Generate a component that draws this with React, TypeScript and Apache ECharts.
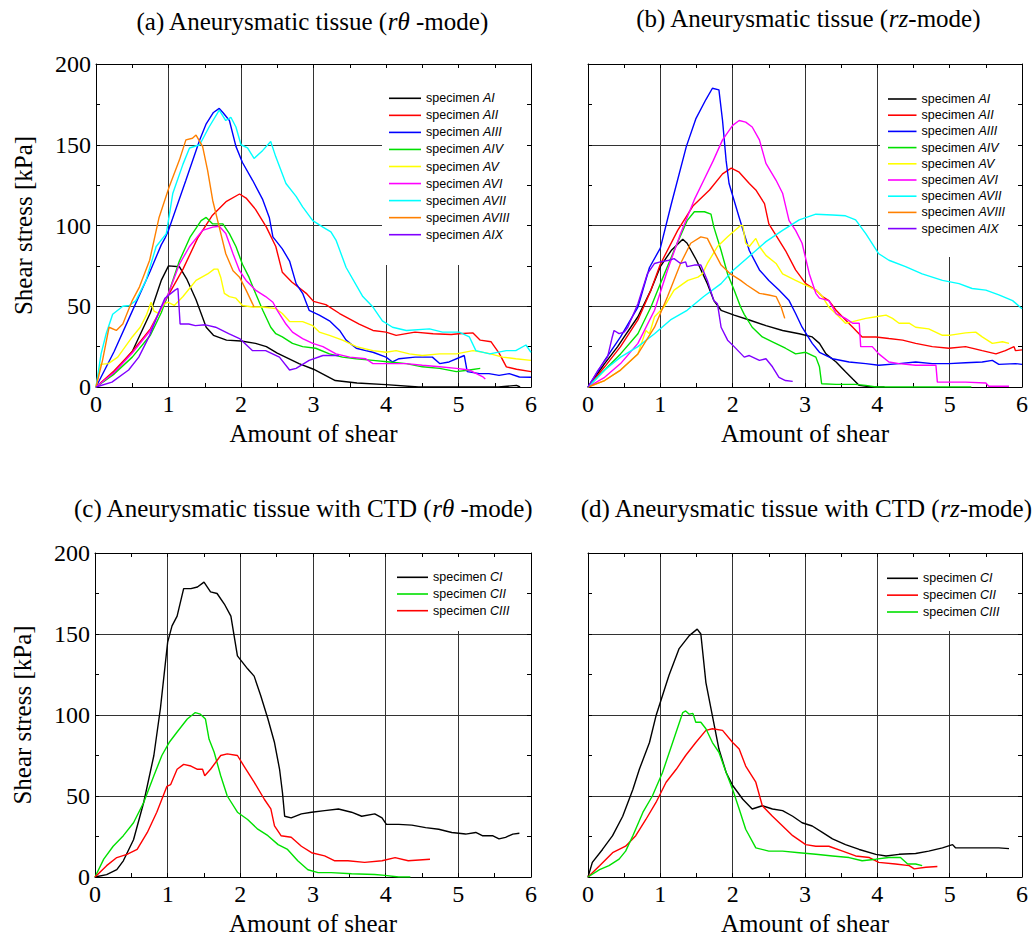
import React, { useEffect, useRef } from 'react';
import * as echarts from 'echarts';

const SERIF = 'Liberation Serif';
const SANS = 'Liberation Sans';

// ---------- axis ticks ----------
const xMin = 0, xMax = 6, xStep = 1;
const yMin = 0, yMax = 200, yStep = 50;

// ---------- titles ----------
const titles = [
  '(a) Aneurysmatic tissue ({i|r}{i|θ} -mode)',
  '(b) Aneurysmatic tissue ({i|rz}-mode)',
  '(c) Aneurysmatic tissue with CTD ({i|r}{i|θ} -mode)',
  '(d) Aneurysmatic tissue with CTD ({i|rz}-mode)',
];
const xName = 'Amount of shear';
const yName = 'Shear stress [kPa]';

// ---------- (a) r-theta mode ----------
const aAI = [[0,0],[0.25,9],[0.5,22],[0.75,46],[0.9,66],[1.0,75],[1.15,74.5],[1.25,67],[1.38,54],[1.52,37],[1.62,32],[1.8,29],[2.0,28.5],[2.2,27],[2.35,25],[2.5,21],[2.8,14.5],[3.0,11],[3.3,4],[3.6,2.5],[4.0,1.5],[4.45,0],[5.55,0],[5.8,1],[5.85,0]];
const aAII = [[0,0],[0.25,10],[0.5,22],[0.75,36],[1.0,57],[1.2,73],[1.4,92],[1.6,106],[1.8,115],[1.98,119.5],[2.07,117],[2.2,110],[2.35,99],[2.48,87],[2.57,71],[2.7,65],[2.9,58],[3.0,53],[3.17,51],[3.36,45.5],[3.63,39],[3.82,35],[4.0,34],[4.14,32],[4.4,34],[4.65,33],[4.9,32.5],[5.0,33],[5.2,33.5],[5.3,29],[5.45,28],[5.56,21],[5.66,12.5],[5.8,11],[6.0,9.5]];
const aAIII = [[0,0],[0.25,22],[0.5,47],[0.75,72],[0.9,88],[0.95,92],[1.0,97],[1.24,128],[1.43,153],[1.52,163],[1.62,170],[1.7,172.5],[1.75,170],[1.84,165],[1.93,149],[2.02,139],[2.16,128],[2.3,116],[2.39,105],[2.44,93],[2.57,85.5],[2.67,78],[2.76,64],[2.85,58],[2.94,47.5],[3.08,44.5],[3.22,41],[3.36,35],[3.45,29],[3.59,24],[3.72,22.5],[3.82,21.5],[4.0,18.5],[4.09,15.5],[4.18,17.5],[4.4,18.5],[4.64,18.5],[4.74,14.5],[4.87,15.5],[5.08,19.5],[5.12,9.5],[5.29,8.3],[5.42,8.3],[5.56,7.2],[5.7,8.3],[5.84,6.2],[6.0,6]];
const aAIV = [[0,0],[0.25,8],[0.5,18.5],[0.75,32],[0.9,46],[1.0,58],[1.15,78],[1.3,93],[1.45,103],[1.52,105],[1.61,101],[1.75,101],[1.84,95],[1.93,87],[2.02,76],[2.11,68],[2.2,58],[2.3,47.5],[2.41,37],[2.48,33],[2.57,31],[2.71,27],[2.85,25],[3.03,24],[3.22,20.5],[3.4,18.5],[3.59,17.5],[3.82,16.5],[4.05,15.5],[4.28,14.5],[4.5,12.5],[4.74,11.5],[4.97,9.5],[5.15,10.5],[5.3,11.5]];
const aAV = [[0,0],[0.06,14],[0.17,14.5],[0.3,18.5],[0.5,31],[0.61,37],[0.7,45],[0.76,52.5],[0.8,47],[0.87,45.5],[0.93,51],[0.99,52.5],[1.08,50.5],[1.2,56],[1.38,66],[1.54,70],[1.63,73],[1.68,73],[1.72,68],[1.77,58],[1.84,56],[1.93,55],[2.02,50.5],[2.16,49.5],[2.3,49.5],[2.48,48.5],[2.57,45.5],[2.67,40.5],[2.85,40.5],[2.99,38],[3.08,34],[3.22,32],[3.4,29],[3.59,25],[3.82,22.5],[4.0,21.5],[4.14,22.5],[4.32,20.5],[4.5,19.5],[4.74,20.5],[4.97,20.5],[5.2,22.5],[5.4,21],[5.61,18.5],[5.79,17.5],[6.0,16.5]];
const aAVI = [[0,0],[0.25,9],[0.5,21],[0.75,35],[1.0,58],[1.15,76],[1.29,87],[1.47,97],[1.61,99],[1.7,99.5],[1.79,95],[1.89,82.5],[1.98,72],[2.07,66],[2.2,60],[2.34,56],[2.44,52.5],[2.5,47.5],[2.62,39],[2.71,34],[2.85,30],[2.99,27],[3.13,25],[3.31,20.5],[3.5,18.5],[3.72,17.5],[3.82,14.5],[4.05,14.5],[4.28,14.5],[4.5,13.5],[4.74,12.5],[4.97,11.5],[5.15,10.5],[5.33,6.5],[5.37,5]];
const aAVII = [[0,0],[0.07,20.5],[0.14,33],[0.23,45],[0.37,50],[0.46,50.5],[0.55,53.5],[0.69,66],[0.83,87],[0.97,95],[1.06,120],[1.2,138],[1.29,148],[1.43,150],[1.56,161],[1.7,171.5],[1.79,165],[1.86,167],[1.93,161],[2.0,150],[2.09,148],[2.18,141.5],[2.3,146.5],[2.41,152],[2.48,142.5],[2.62,126],[2.76,118],[2.85,111.5],[2.99,103],[3.13,99],[3.24,96],[3.31,91],[3.45,74],[3.68,56],[3.82,49.5],[3.95,41],[4.09,37],[4.28,35],[4.6,36],[4.78,34],[5.01,34],[5.15,31],[5.24,22.5],[5.43,20.5],[5.66,22.5],[5.79,22.5],[5.93,26],[6.0,21.5]];
const aAVIII = [[0,0],[0.09,16.5],[0.18,37],[0.28,35],[0.37,39],[0.5,53.5],[0.6,62],[0.74,78.5],[0.87,105],[1.01,124],[1.15,140.5],[1.24,153],[1.33,154],[1.38,156],[1.47,149],[1.54,134],[1.61,115.5],[1.7,99],[1.79,82.5],[1.89,72],[1.98,68],[2.07,60],[2.16,51.5],[2.18,49.5]];
const aAIX = [[0,0],[0.22,3],[0.45,10.5],[0.59,18.5],[0.73,31],[0.86,45.5],[0.95,55],[1.09,60],[1.13,61],[1.16,39],[1.28,39],[1.37,38],[1.51,38.5],[1.65,37],[1.83,33],[1.98,30],[2.16,22.5],[2.34,22.5],[2.53,18.5],[2.67,10.5],[2.76,11.5],[2.94,16.5],[3.13,19.5],[3.35,19.5]];

// ---------- (b) rz mode ----------
const bAI = [[0,0],[0.23,14.5],[0.41,25],[0.5,31],[0.69,43.5],[0.87,60],[1.0,74.5],[1.15,84.5],[1.31,91.5],[1.37,89],[1.5,78.5],[1.65,64],[1.74,53.5],[1.84,47.5],[2.02,44.5],[2.23,41.5],[2.46,38],[2.69,35],[2.92,33],[3.1,31],[3.2,27],[3.29,20.5],[3.43,15.5],[3.56,9.5],[3.66,5],[3.75,1],[3.93,0],[4.1,0]];
const bAII = [[0,0],[0.23,12.5],[0.45,25],[0.69,41.5],[0.87,60],[1.0,76],[1.24,97],[1.45,112],[1.68,122],[1.86,132],[1.98,135.5],[2.09,133],[2.23,126],[2.32,122],[2.44,113.5],[2.5,101],[2.64,91],[2.73,84.5],[2.87,72.5],[3.01,64],[3.15,60],[3.24,56],[3.33,53.5],[3.43,47.5],[3.56,41.5],[3.66,37],[3.79,31],[3.98,31],[4.16,30],[4.35,29],[4.53,27],[4.76,25],[4.99,24],[5.22,25],[5.45,22.5],[5.64,20.5],[5.77,22.5],[5.89,25],[5.91,22.5],[6.0,23]];
const bAIII = [[0,0],[0.23,16.5],[0.45,31],[0.69,49.5],[0.85,74],[1.0,86],[1.15,113],[1.36,149],[1.49,166],[1.63,178],[1.72,185],[1.81,184],[1.86,165],[1.91,140],[1.95,126],[2.02,115.5],[2.09,105],[2.23,84.5],[2.37,72.5],[2.5,66],[2.64,60],[2.78,53.5],[2.87,45.5],[2.96,37],[3.1,27],[3.2,21.5],[3.38,17.5],[3.61,15.5],[3.84,14.5],[4.02,13.5],[4.3,14.5],[4.53,15.5],[4.76,14.5],[4.99,14.5],[5.22,15],[5.45,15.5],[5.59,16.5],[5.68,14],[5.91,14.5],[6.0,14]];
const bAIV = [[0,0],[0.23,10.5],[0.45,20.5],[0.69,33],[0.87,49.5],[1.0,64],[1.19,84.5],[1.37,103],[1.47,108.5],[1.61,108.5],[1.7,107],[1.74,99],[1.84,84.5],[1.93,70],[2.02,60],[2.11,49.5],[2.16,45],[2.27,37],[2.41,31],[2.55,28],[2.73,24],[2.87,20.5],[3.01,21.5],[3.15,18.5],[3.2,12.5],[3.23,2],[3.43,1.6],[3.7,1.6],[3.84,1],[3.98,0],[5.3,0]];
const bAV = [[0,0],[0.23,4],[0.45,10.5],[0.69,20.5],[0.8,35],[0.85,33],[0.92,43.5],[1.05,49.5],[1.19,60],[1.38,66],[1.52,68],[1.58,70],[1.65,76.5],[1.79,87],[1.93,93],[2.11,100],[2.14,100],[2.18,89],[2.23,87],[2.32,92],[2.37,87],[2.46,81.5],[2.6,76.5],[2.69,70],[2.87,66],[3.06,62],[3.15,60],[3.24,56],[3.33,49.5],[3.47,43.5],[3.56,39.5],[3.66,40.5],[3.84,42.5],[3.98,43.5],[4.12,44.5],[4.21,42.5],[4.3,39.5],[4.44,39.5],[4.53,37],[4.71,36],[4.9,32],[4.99,32],[5.22,33.5],[5.36,34],[5.45,31],[5.59,27],[5.73,28],[5.82,27]];
const bAVI = [[0,0],[0.23,6],[0.45,14.5],[0.69,27],[0.92,47.5],[1.1,72.5],[1.28,95],[1.47,116],[1.6,128],[1.73,140],[1.86,153],[2.0,162],[2.09,165],[2.18,164],[2.27,161],[2.37,153],[2.46,138.5],[2.6,128],[2.69,120],[2.78,103],[2.87,97],[2.96,89],[3.06,70],[3.15,58],[3.2,55],[3.33,53.5],[3.43,45.5],[3.56,42.5],[3.66,39.5],[3.75,39.5],[3.77,25],[3.93,25],[4.02,20.5],[4.16,15.5],[4.3,14.5],[4.53,13.5],[4.81,13.5],[4.83,3],[4.99,3],[5.22,3],[5.5,2.5],[5.54,0.5],[5.82,0.5]];
const bAVII = [[0,0],[0.23,10.5],[0.45,18.5],[0.69,25],[0.92,33],[1.14,41.5],[1.37,47.5],[1.6,56],[1.84,64],[2.0,72],[2.23,81],[2.46,90],[2.69,97],[2.92,103.5],[3.15,107],[3.38,106.5],[3.56,106],[3.7,103.5],[3.84,95],[4.02,82.5],[4.16,78.5],[4.39,74.5],[4.62,70],[4.9,66],[5.13,64],[5.31,61],[5.5,60],[5.68,57],[5.87,53.5],[6.0,48.5]];
const bAVIII = [[0,0],[0.23,4],[0.45,10.5],[0.69,20.5],[0.92,37],[1.1,56],[1.28,76.5],[1.42,89],[1.56,93],[1.65,92],[1.74,84],[1.84,75.5],[1.97,70],[2.11,66],[2.2,63],[2.37,58],[2.5,57],[2.6,56],[2.67,49.5],[2.72,42.5]];
const bAIX = [[0,0],[0.14,10.5],[0.27,18.5],[0.33,30],[0.36,35],[0.43,33],[0.5,34],[0.55,37],[0.69,51.5],[0.82,70],[0.92,76.5],[1.0,77.5],[1.12,78.5],[1.19,79.5],[1.28,76.5],[1.35,77.5],[1.37,74.5],[1.47,75.5],[1.56,75.5],[1.65,66],[1.74,53.5],[1.79,51.5],[1.84,37],[1.93,29],[2.02,25],[2.16,18.5],[2.23,19.5],[2.37,16.5],[2.46,17.5],[2.55,12.5],[2.64,6],[2.73,4],[2.83,3.5]];

// ---------- (c) with CTD, r-theta mode ----------
const cCI = [[0,0],[0.16,1.5],[0.3,4.5],[0.39,10],[0.53,23],[0.67,46],[0.81,75],[0.9,104],[1.0,145],[1.06,155],[1.13,161],[1.22,178],[1.32,178],[1.41,179],[1.5,182],[1.59,176],[1.68,175],[1.78,168.5],[1.87,161],[1.96,136.5],[2.1,128.5],[2.19,124],[2.28,112],[2.38,97.5],[2.47,83],[2.54,66.5],[2.58,52],[2.61,37.5],[2.7,36.5],[2.84,39],[2.98,40],[3.16,41],[3.35,42],[3.53,40],[3.67,37.5],[3.85,39],[3.95,36.5],[4.01,32.5],[4.18,32.5],[4.36,32],[4.55,30.5],[4.73,29.5],[4.91,27.5],[5.1,26.5],[5.24,27.5],[5.33,25.5],[5.47,25.5],[5.56,23.5],[5.65,24.5],[5.75,26.5],[5.84,27]];
const cCII = [[0,0],[0.12,11],[0.25,19],[0.39,25.5],[0.53,33.5],[0.67,46],[0.81,62.5],[0.92,75],[1.02,83],[1.13,89.5],[1.27,97.5],[1.38,101.5],[1.45,100.5],[1.52,97.5],[1.57,85],[1.64,77],[1.73,62.5],[1.82,50],[1.96,40],[2.1,35.5],[2.24,29.5],[2.38,25.5],[2.52,20],[2.65,17],[2.79,10],[2.93,4.5],[3.07,2.7],[3.25,2.7],[3.53,2],[3.85,1.5],[3.99,1],[4.18,0],[4.34,0]];
const cCIII = [[0,0],[0.16,7],[0.3,12],[0.44,14],[0.58,17],[0.72,27.5],[0.85,40],[0.99,56],[1.04,57],[1.13,66.5],[1.22,69.5],[1.32,68.5],[1.41,66.5],[1.48,66.5],[1.51,62.5],[1.59,66.5],[1.73,75],[1.82,76],[1.96,75],[2.05,68.5],[2.19,58.5],[2.33,48],[2.42,42],[2.47,31.5],[2.56,25.5],[2.7,24.5],[2.84,19],[2.98,15],[3.16,13],[3.3,10],[3.48,10],[3.71,9],[3.95,10],[4.13,12],[4.31,10],[4.61,11]];

// ---------- (d) with CTD, rz mode ----------
const dCI = [[0,0],[0.06,9],[0.2,17],[0.34,25.5],[0.48,37.5],[0.62,54],[0.71,66.5],[0.85,83],[0.94,99.5],[1.03,112],[1.12,124.5],[1.26,141],[1.4,149],[1.51,153],[1.56,150],[1.63,120],[1.72,99.5],[1.81,79],[1.91,64.5],[2.0,56.5],[2.14,48],[2.27,42],[2.41,44],[2.55,42],[2.69,41],[2.83,37.5],[2.96,33.5],[3.1,31.5],[3.24,27.5],[3.38,23.5],[3.56,20],[3.75,17],[3.98,14],[4.12,13],[4.3,14],[4.53,14.5],[4.71,16],[4.9,18],[5.04,20],[5.08,18],[5.27,18],[5.45,18],[5.68,18],[5.82,17.5]];
const dCII = [[0,0],[0.16,7],[0.34,15],[0.52,19],[0.66,25.5],[0.8,35.5],[0.94,46],[1.08,58.5],[1.22,66.5],[1.35,75],[1.49,83],[1.63,90.5],[1.72,91.5],[1.86,90.5],[2.0,83],[2.09,79],[2.18,68.5],[2.32,58.5],[2.41,44],[2.55,37.5],[2.69,31.5],[2.83,25.5],[3.01,20],[3.15,19],[3.33,19],[3.52,16],[3.7,13],[3.89,12],[4.02,9],[4.25,8],[4.44,7],[4.51,5],[4.67,6],[4.83,6.5]];
const dCIII = [[0,0],[0.16,4.5],[0.29,7],[0.43,11],[0.52,16],[0.62,25.5],[0.76,40],[0.89,50],[1.03,64.5],[1.17,83],[1.31,101.5],[1.35,102.5],[1.4,100.5],[1.45,101],[1.49,95.5],[1.56,95.5],[1.63,91.5],[1.72,83],[1.81,77],[1.91,64.5],[2.0,54],[2.09,42],[2.18,29.5],[2.32,18],[2.5,16],[2.69,16],[2.92,15],[3.15,14],[3.38,13],[3.61,12],[3.79,10],[3.98,11],[4.16,12],[4.32,12],[4.42,8],[4.53,8],[4.62,7]];

// ---------- specimen labels ----------
const specA = ['AI', 'AII', 'AIII', 'AIV', 'AV', 'AVI', 'AVII', 'AVIII', 'AIX'];
const specC = ['CI', 'CII', 'CIII'];

const BLACK = '#000000', RED = '#ff0000', BLUE = '#0000ff', GREEN = '#00e000',
  YELLOW = '#ffff00', MAGENTA = '#ff00ff', CYAN = '#00ffff', ORANGE = '#ff8000', PURPLE = '#8000ff';
const colorsA = [BLACK, RED, BLUE, GREEN, YELLOW, MAGENTA, CYAN, ORANGE, PURPLE];

const panels = [
  {
    key: 'a', labels: specA, data: [aAI, aAII, aAIII, aAIV, aAV, aAVI, aAVII, aAVIII, aAIX], colors: colorsA,
    grid: { left: 96, top: 64, width: 435, height: 323 }, showY: true,
    legend: { left: 389, top: 91.3, itemWidth: 32, itemGap: 3.05 },
    bg: { x: 382, y: 65, width: 148, height: 200 },
    title: { x: 312, y: 21 },
  },
  {
    key: 'b', labels: specA, data: [bAI, bAII, bAIII, bAIV, bAV, bAVI, bAVII, bAVIII, bAIX], colors: colorsA,
    grid: { left: 588, top: 64, width: 434, height: 323 }, showY: false,
    legend: { left: 888, top: 92, itemWidth: 28.5, itemGap: 2.2 },
    bg: { x: 880, y: 65, width: 141, height: 192 },
    title: { x: 808, y: 18 },
  },
  {
    key: 'c', labels: specC, data: [cCI, cCII, cCIII], colors: [BLACK, GREEN, RED],
    grid: { left: 95, top: 553, width: 436, height: 324 }, showY: true,
    legend: { left: 397, top: 570.3, itemWidth: 31, itemGap: 2.7 },
    bg: { x: 390, y: 554, width: 140, height: 77 },
    title: { x: 303, y: 508 },
  },
  {
    key: 'd', labels: specC, data: [dCI, dCII, dCIII], colors: [BLACK, RED, GREEN],
    grid: { left: 588, top: 553, width: 434, height: 324 }, showY: false,
    legend: { left: 887, top: 571.3, itemWidth: 31, itemGap: 2.85 },
    bg: { x: 882, y: 554, width: 139, height: 77 },
    title: { x: 806, y: 508 },
  },
];

export default function App() {
  const ref = useRef<HTMLDivElement>(null);
  useEffect(() => {
    document.body.style.margin = '0';
    if (!ref.current) return;
    const chart = echarts.init(ref.current, null, { renderer: 'svg' });

    const axisLine = { show: true, onZero: false, lineStyle: { color: '#000', width: 1 } };
    const tick = { show: true, inside: true, length: 4, lineStyle: { color: '#000', width: 1 } };
    const minor = { show: true, splitNumber: 2, length: 4, lineStyle: { color: '#000', width: 1 } };
    const tickFont = { fontFamily: SERIF, fontSize: 24, color: '#000' };
    const nameFont = { fontFamily: SERIF, fontSize: 25, color: '#000' };

    const grid: any[] = [];
    const xAxis: any[] = [];
    const yAxis: any[] = [];
    const series: any[] = [];
    const legend: any[] = [];
    const graphic: any[] = [];

    panels.forEach((p, g) => {
      grid.push({ ...p.grid, containLabel: false });
      xAxis.push({
        type: 'value', gridIndex: g, min: xMin, max: xMax, interval: xStep, position: 'bottom',
        axisLine, axisTick: tick, minorTick: minor,
        axisLabel: { ...tickFont, margin: 5 },
        splitLine: { show: true, lineStyle: { color: '#333', width: 1 } },
        name: xName, nameLocation: 'middle', nameGap: 34, nameTextStyle: nameFont,
      });
      xAxis.push({
        type: 'value', gridIndex: g, min: xMin, max: xMax, interval: xStep, position: 'top', z: 3,
        axisLine, axisTick: tick, minorTick: minor, axisLabel: { show: false }, splitLine: { show: false },
      });
      yAxis.push({
        type: 'value', gridIndex: g, min: yMin, max: yMax, interval: yStep, position: 'left',
        axisLine, axisTick: tick, minorTick: minor,
        axisLabel: { show: p.showY, ...tickFont, margin: 5 },
        splitLine: { show: true, lineStyle: { color: '#333', width: 1 } },
        name: p.showY ? yName : '', nameLocation: 'middle', nameGap: 60, nameTextStyle: nameFont,
      });
      yAxis.push({
        type: 'value', gridIndex: g, min: yMin, max: yMax, interval: yStep, position: 'right', z: 3,
        axisLine, axisTick: tick, minorTick: minor, axisLabel: { show: false }, splitLine: { show: false },
      });

      const names: string[] = [];
      p.labels.forEach((lab, i) => {
        const name = p.key + ':' + lab;
        names.push(name);
        series.push({
          type: 'line', name, xAxisIndex: 2 * g, yAxisIndex: 2 * g,
          data: p.data[i], symbol: 'none', showSymbol: false, smooth: false,
          color: p.colors[i],
          lineStyle: { color: p.colors[i], width: 1.4 },
          emphasis: { disabled: true },
        });
      });

      legend.push({
        orient: 'vertical', left: p.legend.left, top: p.legend.top, padding: 0,
        icon: 'rect',
        itemWidth: p.legend.itemWidth, itemHeight: 1.6, itemGap: p.legend.itemGap + 14 - 14,
        selectedMode: false, data: names,
        formatter: (n: string) => 'specimen {it|' + n.split(':')[1] + '}',
        textStyle: {
          fontFamily: SANS, fontSize: 12.5, color: '#000', lineHeight: 14,
          rich: { it: { fontFamily: SANS, fontSize: 12.5, fontStyle: 'italic', color: '#000', lineHeight: 14 } },
        },
      });

      graphic.push({
        type: 'rect', z: 1, silent: true,
        shape: { x: p.bg.x, y: p.bg.y, width: p.bg.width, height: p.bg.height },
        style: { fill: '#ffffff' },
      });
      graphic.push({
        type: 'text', z: 5, x: p.title.x, y: p.title.y,
        style: {
          text: titles[g], fontFamily: SERIF, fontSize: 25, fill: '#000',
          align: 'center', verticalAlign: 'middle', textAlign: 'center', textVerticalAlign: 'middle',
          rich: { i: { fontFamily: SERIF, fontSize: 25, fontStyle: 'italic', fill: '#000' } },
        },
      });
    });

    chart.setOption({
      animation: false,
      backgroundColor: '#ffffff',
      grid, xAxis, yAxis, series, legend, graphic,
    });
    return () => chart.dispose();
  }, []);
  return <div ref={ref} style={{ width: 1036, height: 938 }} />;
}
